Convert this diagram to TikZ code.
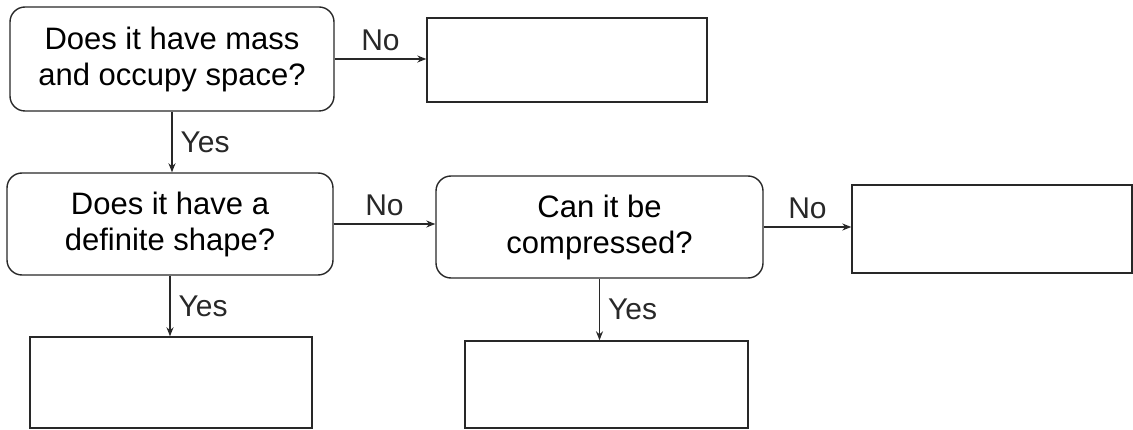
\documentclass[tikz,border=0pt]{standalone}
\usepackage{fontspec}
\setmainfont{Liberation Sans}
\usetikzlibrary{arrows.meta,positioning}
\definecolor{inkc}{RGB}{40,40,40}

\begin{document}
\begin{tikzpicture}[
  x=1pt, y=-1pt,
  font=\fontsize{31}{36}\selectfont,
  >={Stealth[length=9pt,width=7pt]},
  box/.style={draw=inkc, line width=1.4pt, align=center, inner sep=0pt},
  ques/.style={box, rounded corners=15pt},
  blank/.style={box},
  arr/.style={->, line width=1.3pt, color=inkc},
  lab/.style={font=\fontsize{30}{34}\selectfont, text=inkc, inner sep=8pt}
]
\useasboundingbox (0,0) rectangle (1133,430);

% ---- Questions ----
\node[ques, minimum width=324pt, minimum height=104pt] (mass) at (172,59)
  {Does it have mass\\and occupy space?};
\node[ques, minimum width=326pt, minimum height=102pt] (shape) at (170,224)
  {Does it have a\\definite shape?};
\node[ques, minimum width=327pt, minimum height=102pt] (squeeze) at (599.5,227)
  {Can it be\\compressed?};

% ---- Empty answer boxes ----
\node[blank, minimum width=280pt, minimum height=84pt] (ansnomass) at (567,60) {};
\node[blank, minimum width=280pt, minimum height=88pt] (ansgas) at (992,229) {};
\node[blank, minimum width=282pt, minimum height=91pt] (anssolid) at (171,382.5) {};
\node[blank, minimum width=283pt, minimum height=87pt] (ansliquid) at (606.5,384.5) {};

% ---- Arrows ----
\draw[arr] (mass.east) -- node[lab, above]{No} (mass.east -| ansnomass.west);
\draw[arr] (mass.south) -- node[lab, right]{Yes} (mass.south |- shape.north);
\draw[arr] (shape.east) -- node[lab, above]{No} (shape.east -| squeeze.west);
\draw[arr] (shape.south) -- node[lab, right]{Yes} (shape.south |- anssolid.north);
\draw[arr] (squeeze.east) -- node[lab, above]{No} (squeeze.east -| ansgas.west);
\draw[arr] (squeeze.south) -- node[lab, right]{Yes} (squeeze.south |- ansliquid.north);

\end{tikzpicture}
\end{document}
